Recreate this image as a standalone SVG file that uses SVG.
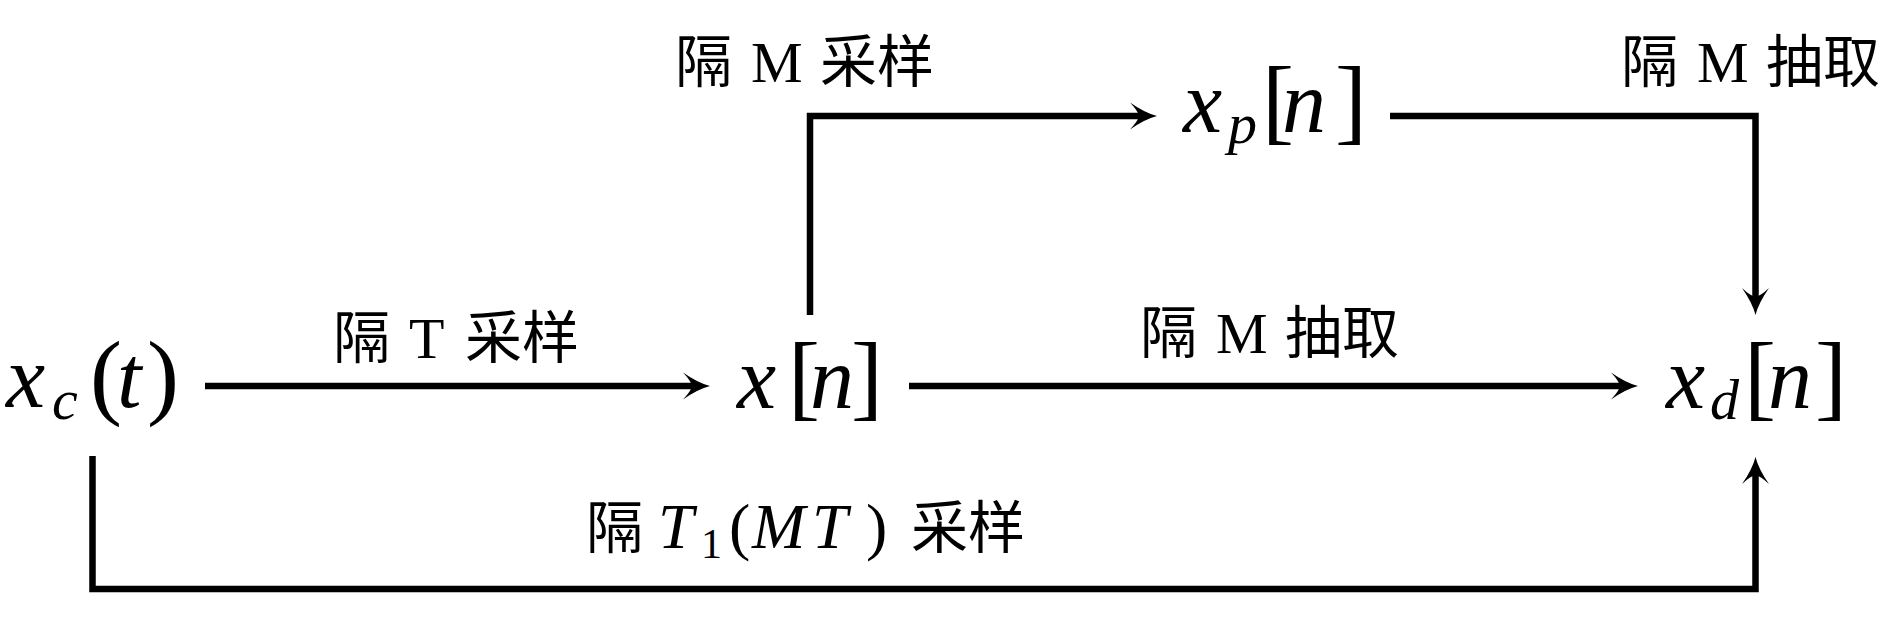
<svg xmlns="http://www.w3.org/2000/svg" width="1896" height="637" viewBox="0 0 1896 637">
<style>
.m{font-family:"Liberation Serif","DejaVu Serif",serif;font-size:88px;fill:#000}
.i{font-style:italic}
.s{font-size:58px}
.b{font-size:96px}
.l{font-family:"Liberation Serif","Noto Sans CJK SC",serif;font-size:58px;fill:#000}
.c{font-family:"Noto Sans CJK SC",sans-serif;font-size:57px}
.k{font-size:64px}
.e{fill:none;stroke:#000;stroke-width:6.5;stroke-linejoin:miter;stroke-linecap:butt}
</style>
<defs>
<marker id="ah" markerUnits="userSpaceOnUse" orient="auto" refX="0" refY="0" markerWidth="40" markerHeight="40" overflow="visible">
<path d="M16,0 Q4,-3 -11,-13.5 Q-3,-5 -2,0 Q-3,5 -11,13.5 Q4,3 16,0 Z" fill="#000"/>
</marker>
</defs>
<rect width="1896" height="637" fill="#fff"/>
<g id="connectors">
<path class="e" d="M205,386 H694" marker-end="url(#ah)"/>
<path class="e" d="M909,386 H1622" marker-end="url(#ah)"/>
<path class="e" d="M810,315 V116 H1141" marker-end="url(#ah)"/>
<path class="e" d="M1390,116 H1755.5 V299" marker-end="url(#ah)"/>
<path class="e" d="M92.5,456 V589 H1755.5 V473" marker-end="url(#ah)"/>
</g>
<g id="labels">
<text class="l" y="358"><tspan class="c" x="333">隔</tspan><tspan x="409">T</tspan><tspan class="c" x="465">采样</tspan></text>
<text class="l" y="353"><tspan class="c" x="1140">隔</tspan><tspan x="1216">M</tspan><tspan class="c" x="1285">抽取</tspan></text>
<text class="l" y="82"><tspan class="c" x="675">隔</tspan><tspan x="751">M</tspan><tspan class="c" x="820">采样</tspan></text>
<text class="l" y="82"><tspan class="c" x="1621">隔</tspan><tspan x="1697">M</tspan><tspan class="c" x="1766">抽取</tspan></text>
<text class="l" y="548"><tspan class="c" x="586">隔</tspan><tspan class="i k" x="658">T</tspan><tspan x="701" y="558" style="font-size:42px">1</tspan><tspan class="k" x="729" y="548">(</tspan><tspan class="i k" x="752">M</tspan><tspan class="i k" x="812">T</tspan><tspan class="k" x="866">)</tspan><tspan class="c" x="911">采样</tspan></text>
</g>
<g id="node-xc">
<text class="m" y="407"><tspan class="i" x="6">x</tspan><tspan class="i s" x="52" y="419">c</tspan><tspan class="b" x="90" y="407">(</tspan><tspan class="i" x="117">t</tspan><tspan class="b" x="147">)</tspan></text>
</g>
<g id="node-xn">
<text class="m" y="408"><tspan class="i" x="737">x</tspan><tspan class="b" x="788">[</tspan><tspan class="i" x="810">n</tspan><tspan class="b" x="851">]</tspan></text>
</g>
<g id="node-xp">
<text class="m" y="132"><tspan class="i" x="1183">x</tspan><tspan class="i s" x="1228" y="143">p</tspan><tspan class="b" x="1262" y="132">[</tspan><tspan class="i" x="1282">n</tspan><tspan class="b" x="1335">]</tspan></text>
</g>
<g id="node-xd">
<text class="m" y="408"><tspan class="i" x="1666">x</tspan><tspan class="i s" x="1710" y="419">d</tspan><tspan class="b" x="1744" y="408">[</tspan><tspan class="i" x="1768">n</tspan><tspan class="b" x="1815">]</tspan></text>
</g>
</svg>
